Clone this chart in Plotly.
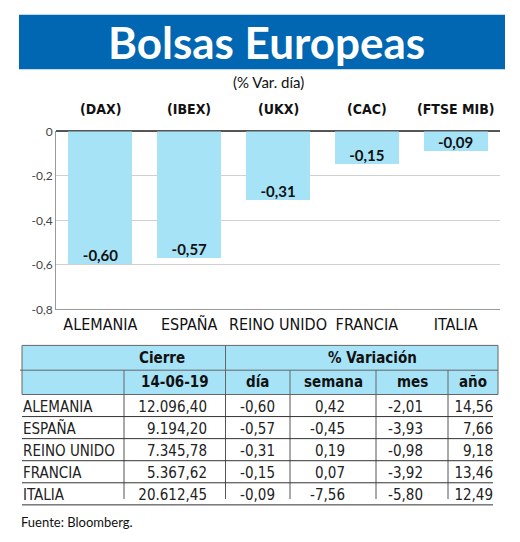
import plotly.graph_objects as go

W, H = 520, 542

# data
countries = ['ALEMANIA', 'ESPAÑA', 'REINO UNIDO', 'FRANCIA', 'ITALIA']
indices = ['(DAX)', '(IBEX)', '(UKX)', '(CAC)', '(FTSE MIB)']
var_dia = [-0.60, -0.57, -0.31, -0.15, -0.09]
cierre = [12096.40, 9194.20, 7345.78, 5367.62, 20612.45]
var_semana = [0.42, -0.45, 0.19, 0.07, -7.56]
var_mes = [-2.01, -3.93, -0.98, -3.92, -5.80]
var_anio = [14.56, 7.66, 9.18, 13.46, 12.49]
y_tickvals = [0, -0.2, -0.4, -0.6, -0.8]
y_ticktext = ['0', '-0,2', '-0,4', '-0,6', '-0,8']
fecha = '14-06-19'

# styles
BLUE = '#0167b2'
LIGHT_BLUE = '#a7e3f7'
NARROW = 'Liberation Sans Narrow, DejaVu Sans Condensed, Roboto, sans-serif'
HUMAN = 'Lato, Open Sans, sans-serif'


def es(v, thousands=False):
    # spanish number format: 12.096,40
    s = f'{v:,.2f}' if thousands else f'{v:.2f}'
    return s.replace(',', '_').replace('.', ',').replace('_', '.')


def px(x):
    return x / W


def py(y):
    return 1 - y / H


def note(text, x, y, font, xanchor='center'):
    return dict(text=text, x=px(x), y=py(y), xref='paper', yref='paper',
                xanchor=xanchor, yanchor='middle', showarrow=False, font=font)


fig = go.Figure()

# bar chart
fig.add_trace(go.Bar(
    x=countries, y=var_dia, width=0.72,
    marker=dict(color=LIGHT_BLUE, line_width=0),
    hoverinfo='skip',
))
fig.add_trace(go.Scatter(
    x=countries, y=var_dia, mode='text',
    text=[es(v) for v in var_dia], textposition='top center',
    textfont=dict(family=HUMAN, size=15, color='#111', weight='bold'),
    cliponaxis=False, hoverinfo='skip',
))

# table (second axis pair in pixel units)
COL_EDGES = [22, 124, 225.5, 290, 376, 448, 498]
COL_ANCHOR = [23, 207, 275, 345, 423, 493]
HEAD_Y = [347, 372.5, 397.5]
ROW_H = 22.7
row_lines = [HEAD_Y[2] + (i + 1) * ROW_H for i in range(len(countries))]
row_text_y = [y - 9 for y in row_lines]

columns = [
    countries,
    [es(v, True) for v in cierre],
    [es(v) for v in var_dia],
    [es(v) for v in var_semana],
    [es(v) for v in var_mes],
    [es(v) for v in var_anio],
]
for j, col in enumerate(columns):
    fig.add_trace(go.Scatter(
        x=[COL_ANCHOR[j]] * len(col), y=row_text_y, mode='text', text=col,
        textposition='middle right' if j == 0 else 'middle left',
        textfont=dict(family=NARROW, size=15, color='#222'),
        xaxis='x2', yaxis='y2', cliponaxis=False, hoverinfo='skip',
    ))

shapes = []
# title box
shapes.append(dict(type='rect', xref='paper', yref='paper',
                   x0=px(19), x1=px(505), y0=py(63), y1=py(7),
                   fillcolor=BLUE, line_width=0, layer='below'))
# header
shapes.append(dict(type='rect', xref='x2', yref='y2',
                   x0=COL_EDGES[0], x1=COL_EDGES[-1], y0=HEAD_Y[0], y1=HEAD_Y[2],
                   fillcolor=LIGHT_BLUE, line=dict(color='#666', width=1), layer='below'))
shapes.append(dict(type='line', xref='x2', yref='y2',
                   x0=COL_EDGES[0] - 2, x1=COL_EDGES[-1], y0=HEAD_Y[1], y1=HEAD_Y[1],
                   line=dict(color='#666', width=1)))
shapes.append(dict(type='line', xref='x2', yref='y2',
                   x0=COL_EDGES[2], x1=COL_EDGES[2], y0=HEAD_Y[0], y1=HEAD_Y[2],
                   line=dict(color='#666', width=1)))
for x in COL_EDGES[1:-1]:
    if x != COL_EDGES[2]:
        shapes.append(dict(type='line', xref='x2', yref='y2',
                           x0=x, x1=x, y0=HEAD_Y[1], y1=HEAD_Y[2],
                           line=dict(color='#666', width=1)))
    shapes.append(dict(type='line', xref='x2', yref='y2',
                       x0=x, x1=x, y0=HEAD_Y[2], y1=row_lines[-1] - 6,
                       line=dict(color='#555', width=1)))
for y in row_lines:
    shapes.append(dict(type='line', xref='x2', yref='y2',
                       x0=COL_EDGES[0], x1=COL_ANCHOR[-1], y0=y, y1=y,
                       line=dict(color='#333', width=1)))

annotations = [
    note('Bolsas Europeas', 266, 35,
         dict(family=HUMAN, size=44, color='white', weight='bold')),
    note('(% Var. día)', 268, 76, dict(family=HUMAN, size=15, color='#111')),
    note('Fuente: Bloomberg.', 19, 529, dict(family=HUMAN, size=13, color='#111'),
         xanchor='left'),
]
for c, idx in zip(countries, indices):
    annotations.append(dict(text=idx, x=c, y=py(104), xref='x', yref='paper',
                            yanchor='middle', showarrow=False,
                            font=dict(family=NARROW, size=14, color='#111', weight='bold')))
head_font = dict(family=NARROW, size=15, color='#111', weight='bold')
annotations.append(dict(text='Cierre', x=162, y=(HEAD_Y[0] + HEAD_Y[1]) / 2,
                        xref='x2', yref='y2', showarrow=False, font=head_font))
annotations.append(dict(text='% Variación', x=372, y=(HEAD_Y[0] + HEAD_Y[1]) / 2,
                        xref='x2', yref='y2', showarrow=False, font=head_font))
sub_heads = [fecha, 'día', 'semana', 'mes', 'año']
for j, t in enumerate(sub_heads, start=1):
    annotations.append(dict(text=t, x=(COL_EDGES[j] + COL_EDGES[j + 1]) / 2,
                            y=(HEAD_Y[1] + HEAD_Y[2]) / 2, xref='x2', yref='y2',
                            showarrow=False, font=head_font))

fig.update_layout(
    width=W, height=H,
    margin=dict(l=0, r=0, t=0, b=0),
    paper_bgcolor='white', plot_bgcolor='white',
    showlegend=False,
    bargap=0,
    shapes=shapes,
    annotations=annotations,
    xaxis=dict(
        domain=[px(56), px(500)], range=[-0.5, 4.5],
        showline=True, linecolor='#999', linewidth=1,
        showgrid=False, ticks='',
        tickfont=dict(family=NARROW, size=16, color='#111'),
        fixedrange=True,
    ),
    yaxis=dict(
        domain=[py(310), py(127)], range=[-0.8, 0],
        tickvals=y_tickvals, ticktext=y_ticktext,
        showline=True, linecolor='#999', linewidth=1,
        showgrid=True, gridcolor='#d0d0d0', gridwidth=1,
        zeroline=True, zerolinecolor='#555', zerolinewidth=2,
        ticks='', tickfont=dict(family=HUMAN, size=12, color='#444'),
        fixedrange=True,
    ),
    xaxis2=dict(domain=[0, 1], range=[0, W], visible=False, fixedrange=True),
    yaxis2=dict(domain=[0, py(340)], range=[H, 340], visible=False, fixedrange=True),
)

# pin the figure to the page corner so the browser margin does not shift it
pin = (
    "document.documentElement.style.margin='0';"
    "document.body.style.margin='0';document.body.style.padding='0';"
    "var d=document.getElementById('{plot_id}');"
    "d.style.position='absolute';d.style.top='0';d.style.left='0';"
)
fig.write_html('out.html', config={'displayModeBar': False}, post_script=pin)
